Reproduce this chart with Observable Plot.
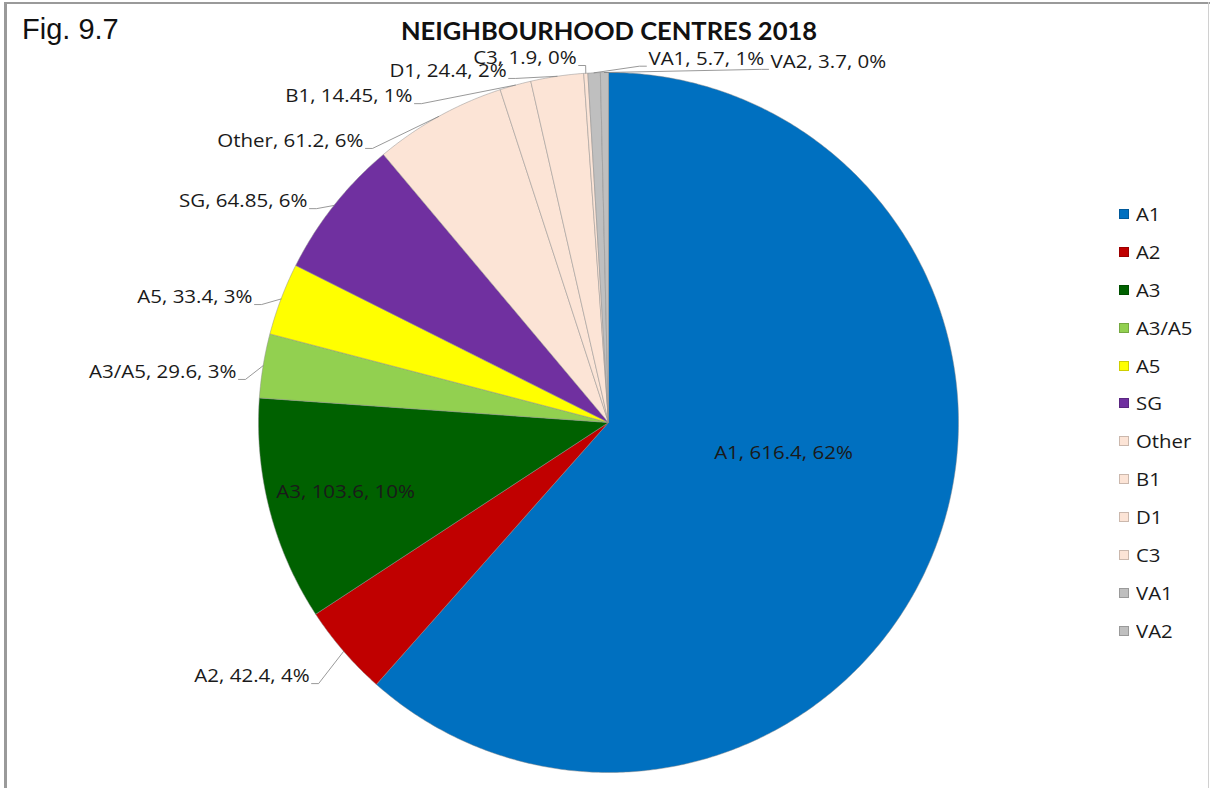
<!DOCTYPE html>
<html>
<head>
<meta charset="utf-8">
<script src="https://cdn.jsdelivr.net/npm/d3@7"></script>
<script src="https://cdn.jsdelivr.net/npm/@observablehq/plot@0.6"></script>
<style>
  html, body { margin: 0; padding: 0; background: #fff; }
  #wrap { position: relative; width: 1210px; height: 788px; overflow: hidden; background: #fff; }
  #wrap svg { position: absolute; left: 0; top: 0; }
  .bl { position: absolute; left: 4px; top: 2px; width: 3px; height: 786px; background: #9a9a9a; }
  .bt { position: absolute; left: 4px; top: 2px; width: 1206px; height: 2px; background: #9a9a9a; }
  .br { position: absolute; left: 1208px; top: 2px; width: 1px; height: 786px; background: #d0d0d0; }
  #fig { position: absolute; left: 22px; top: 13px; font-family: "Liberation Sans", Arial, sans-serif; font-size: 29px; color: #111; }
  #title { position: absolute; left: 0; width: 1218px; top: 15px; text-align: center; font-family: Lato, sans-serif; font-weight: bold; font-size: 25.5px; line-height: 30px; color: #111; }
  #legend { position: absolute; left: 1119px; top: 195px; font-family: "Open Sans", sans-serif; font-size: 18px; color: #1a1a1a; }
  #legend .row { height: 37.9px; display: flex; align-items: center; }
  #legend .sw { width: 10px; height: 10px; box-sizing: border-box; margin-right: 7px; }
  #legend span { display: inline-block; transform: scaleX(1.13); transform-origin: left center; }
</style>
</head>
<body>
<div id="wrap">
  <div class="bl"></div><div class="bt"></div><div class="br"></div>
  <div id="fig">Fig. 9.7</div>
  <div id="title">NEIGHBOURHOOD CENTRES 2018</div>
  <div id="legend"></div>
</div>
<script>
// ---- data ----
const categories = ["A1", "A2", "A3", "A3/A5", "A5", "SG", "Other", "B1", "D1", "C3", "VA1", "VA2"];
const values = [616.4, 42.4, 103.6, 29.6, 33.4, 64.85, 61.2, 14.45, 24.4, 1.9, 5.7, 3.7];
const colors = ["#0070C0", "#C00000", "#006100", "#92D050", "#FFFF00", "#7030A0",
                "#FCE4D6", "#FCE4D6", "#FCE4D6", "#FCE4D6", "#BFBFBF", "#BFBFBF"];

// ---- label layout (pie units, radius = 1) ----
const labelLayout = {
  "A1":    {x: 0.50,  y: -0.089, anchor: "middle"},
  "A2":    {x: -0.854, y: -0.726, anchor: "end"},
  "A3":    {x: -0.751, y: -0.20,  anchor: "middle"},
  "A3/A5": {x: -1.063, y: 0.143,  anchor: "end"},
  "A5":    {x: -1.017, y: 0.357,  anchor: "end"},
  "SG":    {x: -0.86,  y: 0.631,  anchor: "end"},
  "Other": {x: -0.70,  y: 0.803,  anchor: "end"},
  "B1":    {x: -0.56,  y: 0.931,  anchor: "end"},
  "D1":    {x: -0.291, y: 1.003,  anchor: "end"},
  "C3":    {x: -0.091, y: 1.04,   anchor: "end"},
  "VA1":   {x: 0.114,  y: 1.038,  anchor: "start"},
  "VA2":   {x: 0.463,  y: 1.029,  anchor: "start"}
};

const total = d3.sum(values);
const px = 1 / 350;
let acc = 0;
const slices = categories.map((c, i) => {
  const a0 = acc / total * 2 * Math.PI;
  acc += values[i];
  const a1 = acc / total * 2 * Math.PI;
  const pct = Math.round(values[i] / total * 100);
  return {name: c, value: values[i], a0, a1, mid: (a0 + a1) / 2,
          label: `${c}, ${values[i]}, ${pct}%`, ...labelLayout[c]};
});

// polygon points for each slice
const pts = [];
for (const s of slices) {
  pts.push({name: s.name, x: 0, y: 0});
  const n = Math.max(2, Math.ceil((s.a1 - s.a0) / (Math.PI / 360)));
  for (let k = 0; k <= n; k++) {
    const a = s.a0 + (s.a1 - s.a0) * k / n;
    pts.push({name: s.name, x: Math.sin(a), y: Math.cos(a)});
  }
  pts.push({name: s.name, x: 0, y: 0});
}

// leader lines
const leaders = [];
for (const s of slices) {
  if (s.anchor === "middle") continue;
  const dir = s.anchor === "end" ? 1 : -1;
  const by = s.y - 7 * px;
  leaders.push({name: s.name, x: s.x + dir * 2 * px, y: by});
  leaders.push({name: s.name, x: s.x + dir * 9 * px, y: by});
  leaders.push({name: s.name, x: Math.sin(s.mid), y: Math.cos(s.mid)});
}

const font = "'Open Sans', sans-serif";
const textOpts = (anchor) => ({x: "x", y: "y", text: "label", textAnchor: anchor,
  fontSize: 18, fontFamily: font, fill: "#1a1a1a", lineAnchor: "middle"});

const chart = Plot.plot({
  width: 1210, height: 788, margin: 0,
  style: {background: "transparent", overflow: "visible"},
  x: {domain: [-1, 1], range: [258, 958], axis: null},
  y: {domain: [-1, 1], range: [772, 72], axis: null},
  color: {type: "ordinal", domain: categories, range: colors},
  marks: [
    Plot.line(pts, {x: "x", y: "y", z: "name", fill: "name", stroke: "#8c8c8c",
      strokeWidth: 0.6, strokeOpacity: 0.8, curve: "linear"}),
    Plot.line(leaders, {x: "x", y: "y", z: "name", stroke: "#7f7f7f", strokeWidth: 0.8}),
    Plot.text(slices.filter(d => d.anchor === "middle"), textOpts("middle")),
    Plot.text(slices.filter(d => d.anchor === "end"), textOpts("end")),
    Plot.text(slices.filter(d => d.anchor === "start"), textOpts("start"))
  ]
});
// widen the label glyphs slightly (the reference font is wider than Open Sans)
d3.select(chart).selectAll("g[aria-label='text'] text").each(function () {
  const t = this.getAttribute("transform") || "";
  this.setAttribute("transform", t + " scale(1.14,1)");
});
document.getElementById("wrap").appendChild(chart);

// legend
const lg = document.getElementById("legend");
categories.forEach((c, i) => {
  const row = document.createElement("div");
  row.className = "row";
  const sw = document.createElement("div");
  sw.className = "sw";
  sw.style.background = colors[i];
  sw.style.border = "1px solid " + d3.color(colors[i]).darker(0.6);
  const t = document.createElement("span");
  t.textContent = c;
  row.appendChild(sw); row.appendChild(t);
  lg.appendChild(row);
});
</script>
</body>
</html>
